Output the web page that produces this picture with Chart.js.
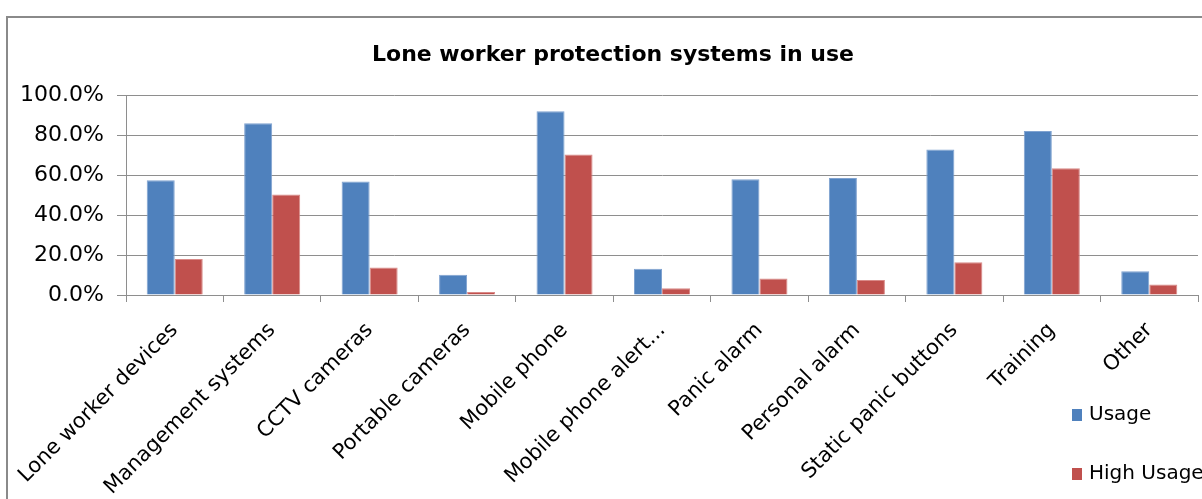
<!DOCTYPE html>
<html lang="en">
<head>
  <meta charset="UTF-8" />
  <title>Lone worker protection systems in use</title>
  <script src="https://cdn.jsdelivr.net/npm/chart.js"></script>
  <style>
    html, body {
      margin: 0;
      padding: 0;
      background: #fff;
      overflow: hidden;
    }
    #wrap {
      width: 1202px;
      height: 499px;
    }
  </style>
</head>
<body>
  <div id="wrap"><canvas id="lwChart"></canvas></div>
  <script>
    const categories = [
      'Lone worker devices', 'Management systems', 'CCTV cameras', 'Portable cameras',
      'Mobile phone', 'Mobile phone alert...', 'Panic alarm', 'Personal alarm',
      'Static panic buttons', 'Training', 'Other'
    ];
    const usage = [57.4, 85.9, 56.7, 10.1, 91.9, 13.1, 57.9, 58.5, 72.8, 82.0, 11.9];
    const highUsage = [18.0, 50.3, 13.7, 1.5, 70.3, 3.4, 8.2, 7.5, 16.4, 63.4, 5.2];
    const yTicks = [0, 20, 40, 60, 80, 100];
    const chartTitle = 'Lone worker protection systems in use';

    const FONT = 'DejaVu Sans';

    // frame round the chart (only left + top edges are inside the crop)
    // plus the title, which sits centred on the full (uncropped) chart
    const framePlugin = {
      id: 'frame',
      beforeDraw(chart) {
        const c = chart.ctx;
        c.save();
        c.strokeStyle = '#8a8a8a';
        c.lineWidth = 2;
        c.beginPath();
        c.moveTo(7, chart.height);
        c.lineTo(7, 17);
        c.lineTo(chart.width, 17);
        c.stroke();

        c.fillStyle = '#000';
        c.font = 'bold 22px ' + FONT;
        c.textAlign = 'center';
        c.textBaseline = 'middle';
        c.fillText(chartTitle, 613, 55);
        c.restore();
      }
    };

    // Excel-like legend, stacked at the lower right
    const legendPlugin = {
      id: 'xlLegend',
      afterDraw(chart) {
        const c = chart.ctx;
        c.save();
        c.font = '20px ' + FONT;
        c.textBaseline = 'middle';
        chart.data.datasets.forEach((ds, i) => {
          const y = 415 + i * 59;
          c.fillStyle = ds.backgroundColor;
          c.fillRect(1072, y - 6, 10, 12);
          c.fillStyle = '#000';
          c.fillText(ds.label, 1089, y);
        });
        c.restore();
      }
    };

    const ctx = document.getElementById('lwChart').getContext('2d');
    const lwChart = new Chart(ctx, {
      type: 'bar',
      data: {
        labels: categories,
        datasets: [{
          label: 'Usage',
          data: usage,
          backgroundColor: '#4F81BD',
          borderColor: '#7FA2D0',
          borderWidth: 1,
          barPercentage: 1,
          categoryPercentage: 0.575
        }, {
          label: 'High Usage',
          data: highUsage,
          backgroundColor: '#C0504D',
          borderColor: '#D98A88',
          borderWidth: 1,
          barPercentage: 1,
          categoryPercentage: 0.575
        }]
      },
      options: {
        responsive: true,
        maintainAspectRatio: false,
        animation: false,
        layout: {
          padding: { left: 8, top: 95, right: 4, bottom: 0 }
        },
        scales: {
          x: {
            grid: {
              offset: true,
              drawOnChartArea: false,
              drawTicks: true,
              tickLength: 7,
              color: '#8e8e8e'
            },
            border: { display: true, color: '#8e8e8e', width: 1 },
            ticks: {
              autoSkip: false,
              minRotation: 45,
              maxRotation: 45,
              padding: 16,
              color: '#000',
              font: { family: FONT, size: 21 }
            },
            afterFit(scale) {
              scale.height = 204;
            }
          },
          y: {
            min: 0,
            max: 100,
            afterBuildTicks(scale) {
              scale.ticks = yTicks.map(v => ({ value: v }));
            },
            grid: {
              color: '#8e8e8e',
              tickLength: 9
            },
            border: { display: true, color: '#8e8e8e', width: 1 },
            ticks: {
              padding: 13,
              color: '#000',
              font: { family: FONT, size: 22 },
              callback: v => v.toFixed(1) + '%'
            },
            afterFit(scale) {
              scale.width = 118;
            }
          }
        },
        plugins: {
          legend: { display: false },
          tooltip: { enabled: false },
          title: { display: false }
        }
      },
      plugins: [framePlugin, legendPlugin]
    });
  </script>
</body>
</html>
